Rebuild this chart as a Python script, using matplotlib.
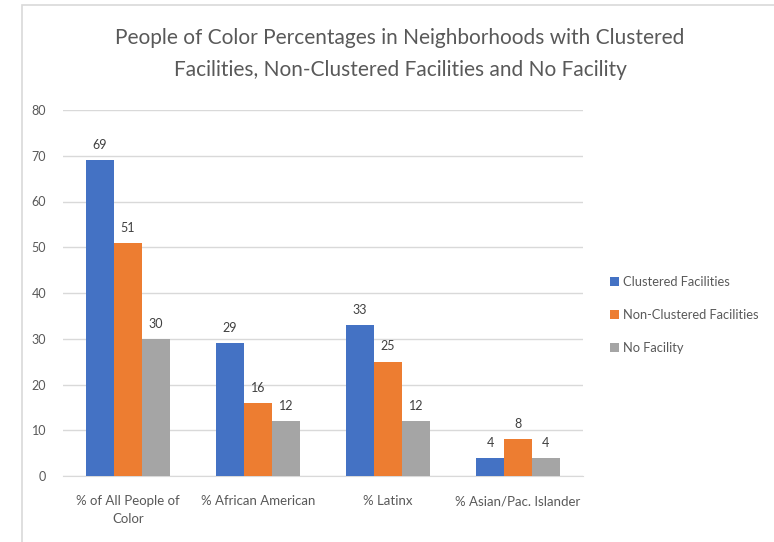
import numpy as np
import matplotlib.pyplot as plt
from matplotlib.patches import Rectangle

# 数据
categories = ["% of All People of\nColor", "% African American", "% Latinx", "% Asian/Pac. Islander"]
series_names = ["Clustered Facilities", "Non-Clustered Facilities", "No Facility"]
clustered = [69, 29, 33, 4]
non_clustered = [51, 16, 25, 8]
no_facility = [30, 12, 12, 4]
colors = ["#4472C4", "#ED7D31", "#A5A5A5"]

plt.rcParams['font.family'] = ['Lato', 'DejaVu Sans']

fig = plt.figure(figsize=(7.74, 5.42), dpi=100)
# 外框（截图中的图表边框）
fig.patches.append(Rectangle((22 / 774, -0.1), 1.1, 1.1 - 5 / 542, transform=fig.transFigure,
                             fill=False, edgecolor="#D9D9D9", lw=1.2))

ax = fig.add_axes([63 / 774, 1 - 476 / 542, (583 - 63) / 774, (476 - 110) / 542])

x = np.arange(len(categories))
w = 0.215
for i, (vals, name) in enumerate(zip([clustered, non_clustered, no_facility], series_names)):
    bars = ax.bar(x + (i - 1) * w, vals, w, color=colors[i], label=name, zorder=3)
    for b, v in zip(bars, vals):
        ax.text(b.get_x() + b.get_width() / 2, v + 2, str(v), ha='center', va='bottom',
                fontsize=9, color="#404040")

ax.set_xlim(-0.5, 3.5)
ax.set_ylim(0, 80)
ax.set_yticks(range(0, 81, 10))
ax.grid(axis='y', color="#D9D9D9", lw=1, zorder=0)
for s in ['top', 'right', 'left']:
    ax.spines[s].set_visible(False)
ax.spines['bottom'].set_color("#D9D9D9")
ax.tick_params(length=0, colors="#595959", labelsize=9)
ax.tick_params(axis='y', pad=12)
ax.tick_params(axis='x', pad=14, labelsize=9.5)
ax.set_xticks(x)
ax.set_xticklabels(categories, linespacing=1.6)

fig.text(0.517, 1 - 54 / 542, "People of Color Percentages in Neighborhoods with Clustered\n"
         "Facilities, Non-Clustered Facilities and No Facility",
         ha='center', va='center', fontsize=15, color="#595959", linespacing=1.7)

fig.legend(loc='center left', bbox_to_anchor=(598 / 774, 1 - 315 / 542), frameon=False,
           fontsize=9.3, labelcolor="#595959", handlelength=0.7, handleheight=0.7,
           handletextpad=0.3, labelspacing=1.65)

fig.savefig("out.png", dpi=100)
